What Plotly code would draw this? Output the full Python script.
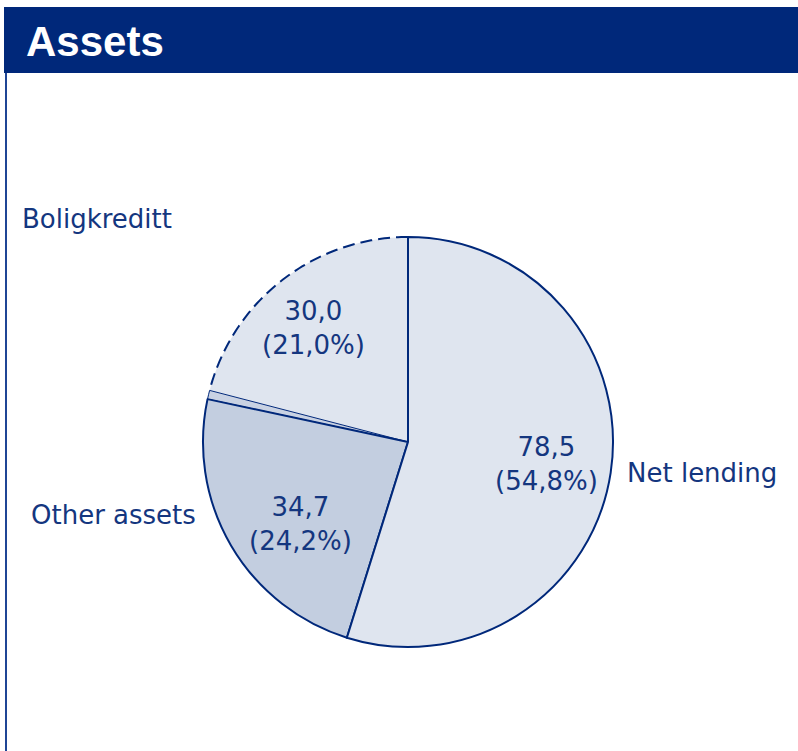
"""Assets pie chart"""

import math
import plotly.graph_objects as go

W, H = 798, 751

# data (drawing order: counterclockwise, Boligkreditt ends at 12 o'clock)
slices = ['Boligkreditt', 'Other (small)', 'Other assets', 'Net lending']
values = [30.0, 1.0, 33.7, 78.5]
fills = ['#dfe5ef', '#c9d2e3', '#c3cee0', '#dfe5ef']
line_widths = [0, 1, 2, 2]

# label texts
inside_labels = ['30,0<br>(21,0%)', '34,7<br>(24,2%)', '78,5<br>(54,8%)']
outside_labels = ['Boligkreditt', 'Other assets', 'Net lending']

NAVY = '#00287a'
TEXT = '#14367f'

# pie geometry (pixels)
cx, cy, r = 408, 442, 205


def px(x):
    return x / W


def py(y):
    return 1 - y / H


share = values[0] / sum(values)

fig = go.Figure()
fig.add_trace(go.Pie(
    labels=slices,
    values=values,
    sort=False,
    direction='counterclockwise',
    rotation=-360 * share,
    textinfo='none',
    hoverinfo='label+value',
    marker=dict(colors=fills, line=dict(color=NAVY, width=line_widths)),
    domain=dict(x=[px(cx - r), px(cx + r)], y=[py(cy + r), py(cy - r)]),
    showlegend=False,
))

# dashed outer arc of the Boligkreditt slice, from its share of the total
n = 80
pts = []
for i in range(n + 1):
    a = -2 * math.pi * share * i / n  # counterclockwise from top
    x = cx + r * math.sin(a)
    y = cy - r * math.cos(a)
    pts.append(f'{px(x):.5f},{py(y):.5f}')
path = 'M ' + ' L '.join(pts)

shapes = [
    dict(type='path', path=path, xref='paper', yref='paper', layer='above',
         line=dict(color=NAVY, width=2, dash='12px,6px')),
    # header bar
    dict(type='rect', xref='paper', yref='paper', x0=px(4), x1=1, y0=py(73), y1=py(7),
         fillcolor=NAVY, line=dict(width=0), layer='below'),
    # left frame line
    dict(type='line', xref='paper', yref='paper', x0=px(6), x1=px(6), y0=py(73), y1=0,
         line=dict(color='#1f4595', width=2)),
]

font = dict(family='DejaVu Sans, Verdana, sans-serif', size=26, color=TEXT)
annotations = [
    dict(text='<b>Assets</b>', x=px(24), y=py(41), xanchor='left', yanchor='middle',
         font=dict(family='Liberation Sans, Arial, sans-serif', size=42, color='white')),
    dict(text=inside_labels[0], x=px(313), y=py(328)),
    dict(text=inside_labels[1], x=px(300), y=py(524)),
    dict(text=inside_labels[2], x=px(546), y=py(464)),
    dict(text=outside_labels[0], x=px(20), y=py(219), xanchor='left'),
    dict(text=outside_labels[1], x=px(198), y=py(515), xanchor='right'),
    dict(text=outside_labels[2], x=px(625), y=py(473), xanchor='left'),
]
for ann in annotations:
    ann.setdefault('xref', 'paper')
    ann.setdefault('yref', 'paper')
    ann.setdefault('showarrow', False)
    ann.setdefault('xanchor', 'center')
    ann.setdefault('yanchor', 'middle')
    ann.setdefault('font', font)

fig.update_layout(
    width=W,
    height=H,
    margin=dict(l=0, r=0, t=0, b=0),
    paper_bgcolor='white',
    plot_bgcolor='white',
    shapes=shapes,
    annotations=annotations,
)

# drop the default page margin so the figure sits at the window's corner
fig.write_html("out.html", config={'displayModeBar': False},
               post_script="document.body.style.margin='0';")
